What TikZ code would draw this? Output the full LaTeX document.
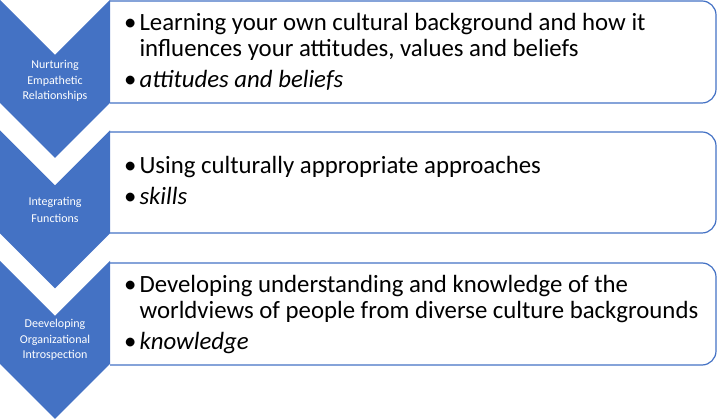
\documentclass[tikz,border=0pt]{standalone}
\usepackage{fontspec}
\setmainfont{Carlito}
\definecolor{chevblue}{HTML}{4472C4}

\begin{document}
\begin{tikzpicture}[x=1pt,y=1pt,
        chevron/.style={fill=chevblue},
        listbox/.style={draw=chevblue,line width=1.2pt,rounded corners=14pt},
        chevtext/.style={text=white,align=center,inner sep=0pt,font=\fontsize{12}{15.5}\selectfont},
        listtext/.style={anchor=west,align=left,inner sep=0pt,font=\fontsize{24.8}{25.5}\selectfont}]
        \useasboundingbox (0,0) rectangle (720,420);

        \draw[listbox] (110,419) -- (716,419) -- (716,317) -- (110,317);
        \draw[listbox] (110,288) -- (716,288) -- (716,187) -- (110,187);
        \draw[listbox] (110,157) -- (716,157) -- (716,55) -- (110,55);

        \fill[chevron] (0,420) -- (55,365) -- (110,420) -- (110,317) -- (55,262) -- (0,317) -- cycle;
        \fill[chevron] (0,289.5) -- (55,234.5) -- (110,289.5) -- (110,186.5) -- (55,131.5) -- (0,186.5) -- cycle;
        \fill[chevron] (0,159) -- (55,104) -- (110,159) -- (110,56) -- (55,1) -- (0,56) -- cycle;

        \node[chevtext] (nurturing) at (55,339) {Nurturing\\Empathetic\\Relationships};
        \node[chevtext] (integrating) at (55,210) {Integrating\\[1.5pt]Functions};
        \node[chevtext] (developing) at (55,80) {Deeveloping\\Organizational\\Introspection};

        \node[listtext] (attitudes) at (124,366) {\begin{tabular}{@{}l@{\hspace{3pt}}l@{}}
                •&Learning your own cultural background and how it\\
                &influences your attitudes, values and beliefs\\[5.5pt]
                •&\textit{attitudes and beliefs}\end{tabular}};
        \node[listtext] (skills) at (124,236) {\begin{tabular}{@{}l@{\hspace{3pt}}l@{}}
                •&Using culturally appropriate approaches\\[5.5pt]
                •&\textit{skills}\end{tabular}};
        \node[listtext] (knowledge) at (124,104) {\begin{tabular}{@{}l@{\hspace{3pt}}l@{}}
                •&Developing understanding and knowledge of the\\
                &worldviews of people from diverse culture backgrounds\\[5.5pt]
                •&\textit{knowledge}\end{tabular}};
\end{tikzpicture}
\end{document}
